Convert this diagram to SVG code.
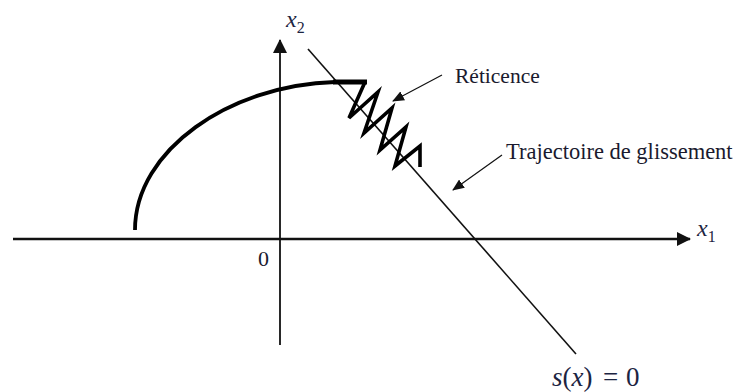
<svg xmlns="http://www.w3.org/2000/svg" width="744" height="392" viewBox="0 0 744 392">
<defs>
<style>
.ax{stroke:#111;fill:none}
.lbl{font-family:"Liberation Serif","Times New Roman",serif;fill:#1a1a2e}
.math{font-family:"Liberation Serif","Times New Roman",serif;font-style:italic;fill:#1c2442}
.thick{stroke:#000;fill:none;stroke-linejoin:miter;stroke-linecap:butt}
</style>
<marker id="bigArrow" viewBox="0 0 14 14" markerWidth="14" markerHeight="14" refX="13" refY="7" orient="auto" markerUnits="userSpaceOnUse">
<path d="M0,0 L14,7 L0,14 Z" fill="#111"/>
</marker>
<marker id="smallArrow" viewBox="0 0 12 10" markerWidth="12" markerHeight="10" refX="11" refY="5" orient="auto" markerUnits="userSpaceOnUse">
<path d="M0,0 L12,5 L0,10 Z" fill="#111"/>
</marker>
</defs>
<rect width="744" height="392" fill="#fff"/>
<g id="axes">
<line class="ax" x1="13" y1="239" x2="690" y2="239" stroke-width="2.5" marker-end="url(#bigArrow)"/>
<line class="ax" x1="280" y1="345" x2="280" y2="40" stroke-width="1.8" marker-end="url(#bigArrow)"/>
</g>
<g id="sliding-surface">
<line class="ax" x1="308" y1="49" x2="576" y2="354" stroke-width="1.6"/>
</g>
<g id="trajectory">
<path class="thick" d="M135,230 C135,150 230,85 335,82" stroke-width="3.8"/>
<line class="thick" x1="333" y1="82" x2="367" y2="82" stroke-width="5"/>
<path class="thick" d="M365,82 L349,118 L378,92 L364,133 L392,108 L380,150 L406,127 L395,166 L420,146 L420,167" stroke-width="3.6"/>
</g>
<g id="connectors">
<line class="ax" x1="442" y1="75" x2="393" y2="101" stroke-width="1.2" marker-end="url(#smallArrow)"/>
<line class="ax" x1="502" y1="155" x2="453" y2="190" stroke-width="1.2" marker-end="url(#smallArrow)"/>
</g>
<g id="labels">
<text class="lbl" x="455" y="83" font-size="21.5">Réticence</text>
<text class="lbl" x="506" y="159" font-size="22.5">Trajectoire de glissement</text>
<text class="lbl" x="258" y="266" font-size="22">0</text>
<text class="math" x="286" y="27" font-size="24">x<tspan font-size="16" font-style="normal" dy="6">2</tspan></text>
<text class="math" x="697" y="236" font-size="24">x<tspan font-size="16" font-style="normal" dy="6">1</tspan></text>
<text class="math" y="386" font-size="27"><tspan x="552">s</tspan><tspan font-style="normal">(</tspan>x<tspan font-style="normal">)</tspan><tspan x="603" font-style="normal">=</tspan><tspan x="626" font-style="normal">0</tspan></text>
</g>
</svg>
